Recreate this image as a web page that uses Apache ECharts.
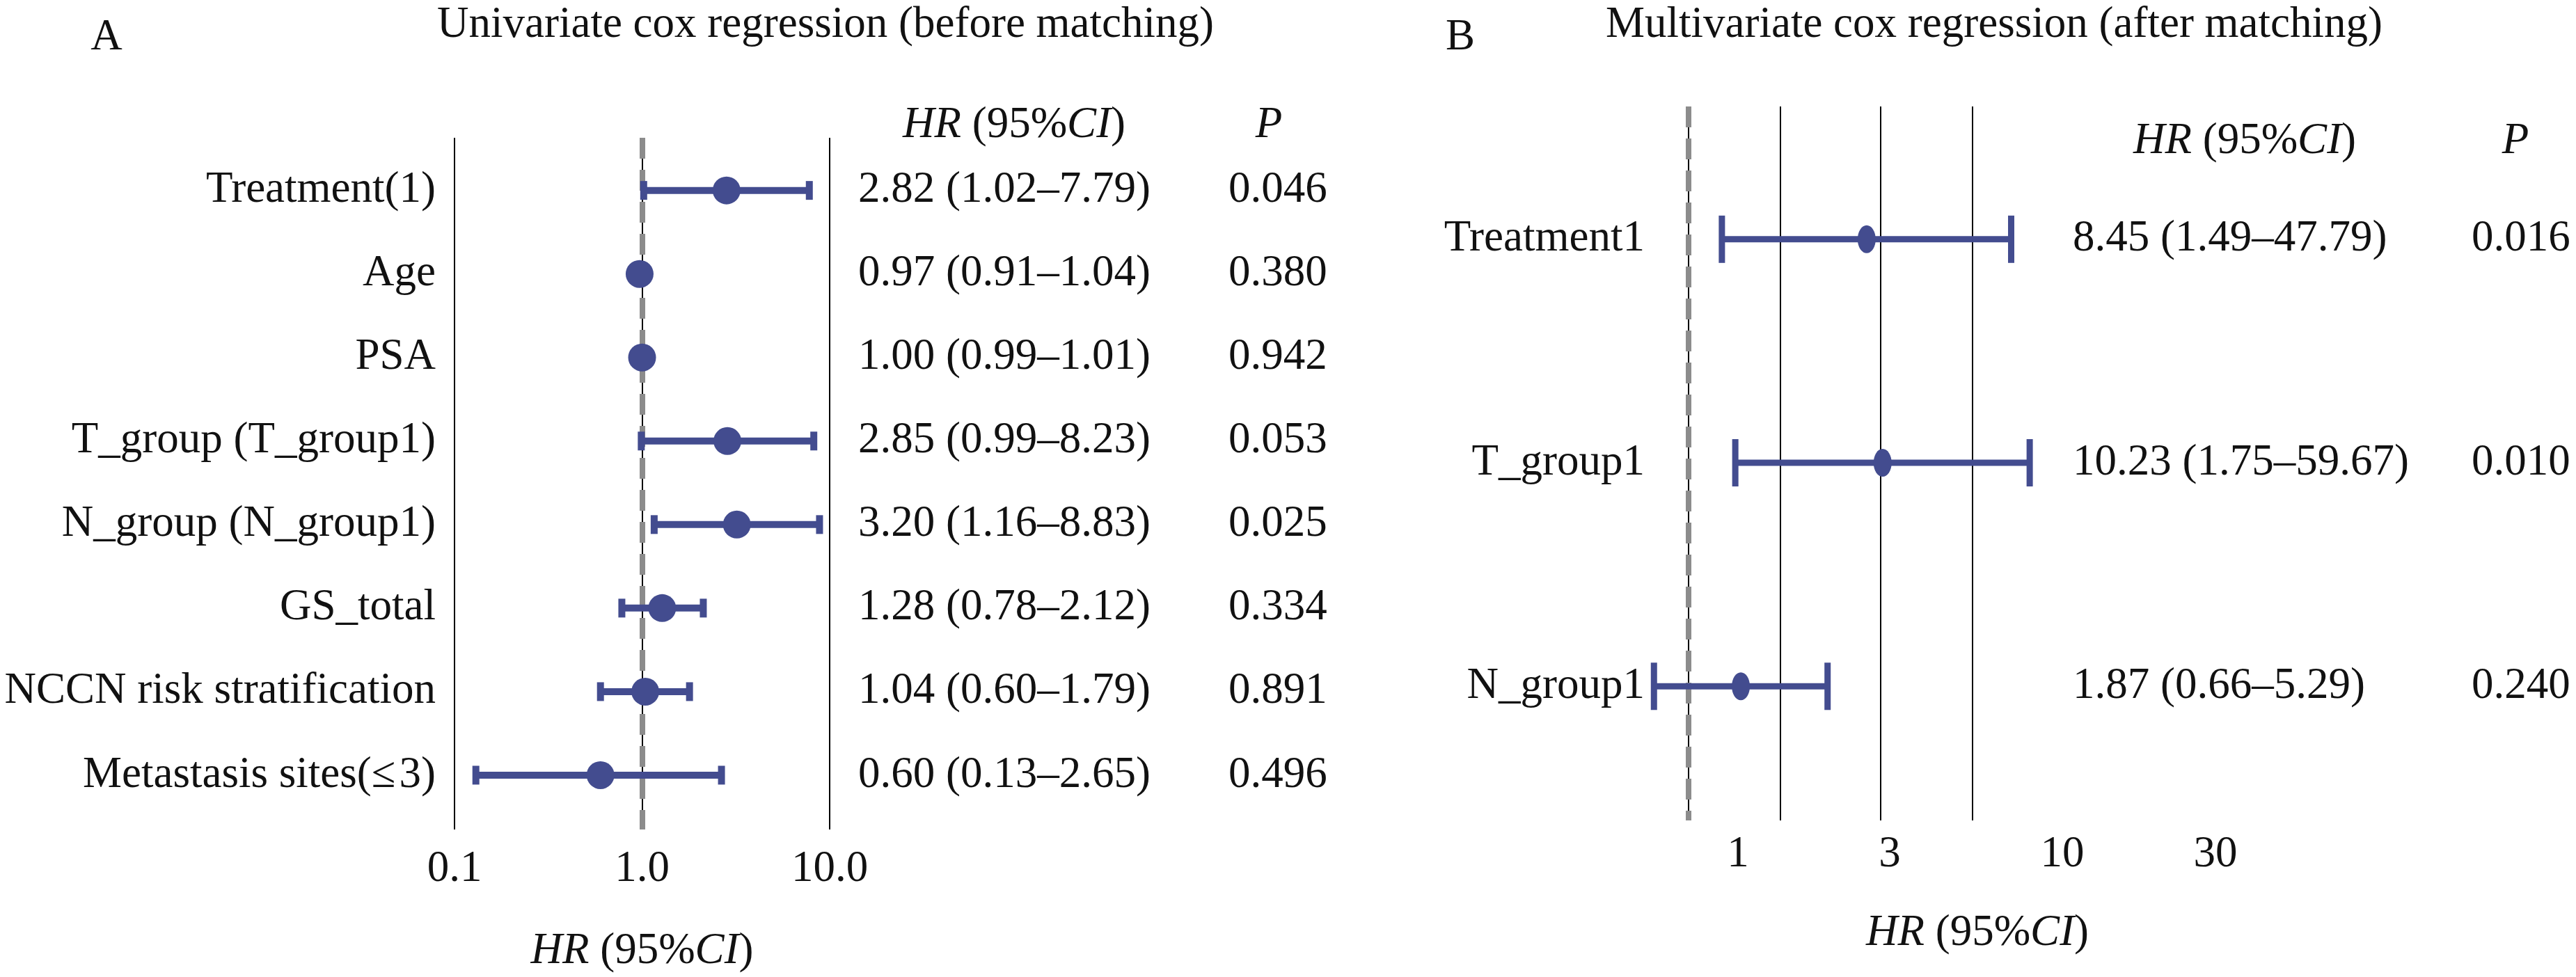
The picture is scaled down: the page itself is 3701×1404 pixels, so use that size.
<!DOCTYPE html>
<html><head><meta charset="utf-8">
<script src="https://cdn.jsdelivr.net/npm/echarts@6/dist/echarts.min.js"></script>
<style>html,body{margin:0;background:#fff}#c{width:3701px;height:1404px}</style>
</head><body><div id="c"></div>
<script>
// Panel A
const namesA = ["Treatment(1)","Age","PSA","T_group (T_group1)","N_group (N_group1)","GS_total","NCCN risk stratification","Metastasis sites(\u2264\u200a3)"];
const hrA = [2.82,0.97,1.00,2.85,3.20,1.28,1.04,0.60];
const loA = [1.02,0.91,0.99,0.99,1.16,0.78,0.60,0.13];
const hiA = [7.79,1.04,1.01,8.23,8.83,2.12,1.79,2.65];
const pA = ["0.046","0.380","0.942","0.053","0.025","0.334","0.891","0.496"];
// Panel B
const namesB = ["Treatment1","T_group1","N_group1"];
const hrB = [8.45,10.23,1.87];
const loB = [1.49,1.75,0.66];
const hiB = [47.79,59.67,5.29];
const pB = ["0.016","0.010","0.240"];
const linesB = [3,10,30];
const tickLabelsB = ["1","3","10","30"];

const F = '"Liberation Serif", "DejaVu Serif", serif';
const FS = 63;
const C = '#434c8f';
const fmt = (h,l,u)=>h.toFixed(2)+' ('+l.toFixed(2)+'\u2013'+u.toFixed(2)+')';

function errSeries(gi, hr, lo, hi, cap, lw){
  return {type:'custom', xAxisIndex:gi, yAxisIndex:gi, z:5, clip:false,
    data: hr.map((h,i)=>[lo[i],hi[i],i]),
    renderItem:(p,api)=>{
      const a=api.coord([api.value(0),api.value(2)]), b=api.coord([api.value(1),api.value(2)]);
      const st={stroke:C,lineWidth:lw};
      return {type:'group',children:[
        {type:'line',shape:{x1:a[0],y1:a[1],x2:b[0],y2:b[1]},style:st},
        {type:'line',shape:{x1:a[0],y1:a[1]-cap/2,x2:a[0],y2:a[1]+cap/2},style:st},
        {type:'line',shape:{x1:b[0],y1:b[1]-cap/2,x2:b[0],y2:b[1]+cap/2},style:st}]};
    }};
}
function textSeries(gi, names, texts, ps, xRef, nameDx, valDx, pDx){
  return {type:'custom', xAxisIndex:gi, yAxisIndex:gi, clip:false, silent:true,
    data: names.map((n,i)=>[xRef,i]),
    renderItem:(p,api)=>{
      const i=p.dataIndex; const c=api.coord([api.value(0),api.value(1)]);
      const s=(t,x,al)=>({type:'text',x:x,y:c[1],style:{text:t,font:FS+'px '+F,fill:'#111',align:al,verticalAlign:'middle'}});
      return {type:'group',children:[s(names[i],c[0]+nameDx,'right'),s(texts[i],c[0]+valDx,'left'),s(ps[i],c[0]+pDx,'left')]};
    }};
}
const T=(x,y,t,italic)=>({type:'text',x:x,y:y,style:{text:t,font:(italic?'italic ':'')+FS+'px '+F,fill:'#111',align:'center',verticalAlign:'middle',
  rich:{i:{fontStyle:'italic',fontSize:FS,fontFamily:F}}}});
const chart = echarts.init(document.getElementById('c'));
const vline=(v,col,w,type)=>({xAxis:v,lineStyle:{color:col,width:w,type:type,opacity:1}});
chart.setOption({
  animation:false,
  grid:[{left:653,width:539,top:198,height:1026},{left:2343,width:635,top:153,height:1026}],
  xAxis:[
    {type:'log',gridIndex:0,min:0.1,max:10,logBase:10,axisLine:{show:false},axisTick:{show:false},splitLine:{show:false},
     axisLabel:{fontSize:FS,fontFamily:F,color:'#111',margin:26,formatter:v=>(+v).toFixed(1),showMinLabel:true,showMaxLabel:true},
     name:'{i|HR} (95%{i|CI})',nameLocation:'middle',nameGap:144,nameTextStyle:{fontSize:FS,fontFamily:F,color:'#111',rich:{i:{fontStyle:'italic',fontSize:FS,fontFamily:F}}}},
    {type:'log',gridIndex:1,min:0.5,max:100,axisLine:{show:false},axisTick:{show:false},splitLine:{show:false},axisLabel:{show:false}}
  ],
  yAxis:[
    {type:'value',gridIndex:0,min:-0.63,max:7.65,inverse:true,show:false},
    {type:'value',gridIndex:1,min:-0.594,max:2.6,inverse:true,show:false}
  ],
  graphic:[
    T(153,54,'A'),
    T(1186,36,'Univariate cox regression (before matching)'),
    T(1457,180,'{i|HR} (95%{i|CI})'),
    T(1823,180,'P',true),
    T(2098,54,'B'),
    T(2865,36,'Multivariate cox regression (after matching)'),
    T(3225,203,'{i|HR} (95%{i|CI})'),
    T(3614,203,'P',true),
    T(2841,1341,'{i|HR} (95%{i|CI})'),
    ...tickLabelsB.map((t,i)=>T([2497,2715,2963,3183][i],1228,t))
  ],
  series:[
    {type:'line',xAxisIndex:0,yAxisIndex:0,data:[],markLine:{symbol:'none',silent:true,label:{show:false},
      data:[vline(0.1,'#000',2,'solid'),vline(10,'#000',2,'solid'),vline(1,'#000',2,'solid'),vline(1,'#8c8c8c',8,[30,16])]}},
    {type:'line',xAxisIndex:1,yAxisIndex:1,data:[],markLine:{symbol:'none',silent:true,label:{show:false},
      data:[...linesB.map(v=>vline(v,'#000',2,'solid')),vline(1,'#000',2,'solid'),vline(1,'#8c8c8c',8,[30,16])]}},
    errSeries(0,hrA,loA,hiA,27,10),
    errSeries(1,hrB,loB,hiB,68,9),
    {type:'scatter',xAxisIndex:0,yAxisIndex:0,z:6,symbol:'circle',symbolSize:40,itemStyle:{color:C,opacity:1},data:hrA.map((h,i)=>[h,i])},
    {type:'scatter',xAxisIndex:1,yAxisIndex:1,z:6,symbol:'circle',symbolSize:[26,40],itemStyle:{color:C,opacity:1},data:hrB.map((h,i)=>[h,i])},
    textSeries(0,namesA,hrA.map((h,i)=>fmt(h,loA[i],hiA[i])),pA,0.1,-27,580,1112),
    textSeries(1,namesB,hrB.map((h,i)=>fmt(h,loB[i],hiB[i])),pB,0.5,20,635,1208)
  ]
});
</script></body></html>
